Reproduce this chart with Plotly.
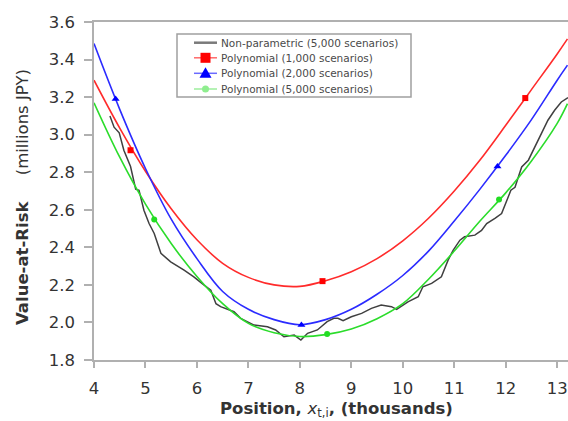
import plotly.graph_objects as go

# Position grid (thousands) for the fitted polynomial curves
x_grid = [4.0, 4.5, 5.0, 5.5, 6.0, 6.5, 7.0, 7.5, 8.0, 8.5, 9.0, 9.5,
          10.0, 10.5, 11.0, 11.5, 12.0, 12.5, 13.0, 13.2]

# Polynomial VaR fits (millions JPY)
poly_1000 = [3.29, 3.035, 2.805, 2.605, 2.44, 2.315, 2.24, 2.20, 2.192, 2.222, 2.27, 2.34,
             2.435, 2.555, 2.70, 2.865, 3.05, 3.24, 3.43, 3.51]
poly_2000 = [3.485, 3.135, 2.82, 2.55, 2.34, 2.165, 2.07, 2.015, 1.988, 2.015, 2.07, 2.15,
             2.25, 2.38, 2.54, 2.71, 2.89, 3.08, 3.29, 3.37]
poly_5000 = [3.17, 2.88, 2.63, 2.42, 2.245, 2.10, 1.995, 1.945, 1.925, 1.935, 1.965, 2.02,
             2.10, 2.23, 2.38, 2.54, 2.69, 2.86, 3.06, 3.165]

# Marker positions on each polynomial curve
mark_x_1000 = [4.71, 8.44, 12.38]
mark_y_1000 = [2.917, 2.22, 3.195]
mark_x_2000 = [4.42, 8.03, 11.84]
mark_y_2000 = [3.19, 1.986, 2.83]
mark_x_5000 = [5.17, 8.53, 11.87]
mark_y_5000 = [2.548, 1.938, 2.655]

# Non-parametric VaR estimate (5,000 scenarios)
np_x = [4.31, 4.39, 4.49, 4.58, 4.71, 4.81, 4.875, 4.97, 5.07, 5.17, 5.30, 5.49, 5.75,
        5.94, 6.14, 6.27, 6.37, 6.46, 6.72, 6.85, 7.11, 7.37, 7.53, 7.69, 7.89, 8.02,
        8.15, 8.34, 8.53, 8.66, 8.74, 8.84, 9.0, 9.20, 9.39, 9.58, 9.78, 9.88, 10.10,
        10.30, 10.39, 10.56, 10.75, 10.88, 10.98, 11.11, 11.20, 11.40, 11.53, 11.63,
        11.79, 11.92, 12.05, 12.10, 12.18, 12.31, 12.44, 12.57, 12.69, 12.82, 12.95,
        13.08, 13.21]
np_y = [3.10, 3.04, 3.01, 2.917, 2.83, 2.71, 2.704, 2.598, 2.527, 2.474, 2.368, 2.323,
        2.279, 2.243, 2.199, 2.172, 2.10, 2.084, 2.057, 2.022, 1.986, 1.977, 1.96, 1.924,
        1.933, 1.906, 1.942, 1.96, 2.004, 2.022, 2.022, 2.009, 2.03, 2.048, 2.075, 2.093,
        2.084, 2.07, 2.11, 2.137, 2.19, 2.208, 2.243, 2.332, 2.385, 2.438, 2.456, 2.465,
        2.49, 2.527, 2.554, 2.58, 2.669, 2.704, 2.72, 2.828, 2.864, 2.935, 3.006, 3.077,
        3.13, 3.174, 3.197]

y_ticks = [1.8, 2.0, 2.2, 2.4, 2.6, 2.8, 3.0, 3.2, 3.4, 3.6]
x_ticks = [4, 5, 6, 7, 8, 9, 10, 11, 12, 13]

names = ["Non-parametric (5,000 scenarios)",
         "Polynomial (1,000 scenarios)",
         "Polynomial (2,000 scenarios)",
         "Polynomial (5,000 scenarios)"]

RED, BLUE, GREEN, GREY = "#ff2b2b", "#2b2bff", "#2bdc2b", "#404040"
FONT = "DejaVu Sans, Verdana, sans-serif"

W, H = 568, 421
ML, MR, MT, MB = 94, 0, 22, 61
PW, PH = W - ML - MR, H - MT - MB


def px(x):
    """Horizontal pixel -> paper coordinate."""
    return (x - ML) / PW


def py(y):
    """Vertical pixel (from top) -> paper coordinate."""
    return (H - MB - y) / PH


fig = go.Figure()

# Curves
fig.add_trace(go.Scatter(x=np_x, y=np_y, mode="lines", showlegend=False,
                         line=dict(color=GREY, width=1.5)))
fig.add_trace(go.Scatter(x=x_grid, y=poly_1000, mode="lines", showlegend=False,
                         line=dict(color=RED, width=1.6, shape="spline", smoothing=1.0)))
fig.add_trace(go.Scatter(x=x_grid, y=poly_2000, mode="lines", showlegend=False,
                         line=dict(color=BLUE, width=1.6, shape="spline", smoothing=1.0)))
fig.add_trace(go.Scatter(x=x_grid, y=poly_5000, mode="lines", showlegend=False,
                         line=dict(color=GREEN, width=1.6, shape="spline", smoothing=1.0)))

# Point markers on the curves
fig.add_trace(go.Scatter(x=mark_x_1000, y=mark_y_1000, mode="markers", showlegend=False,
                         marker=dict(symbol="square", size=6, color="#ff0000")))
fig.add_trace(go.Scatter(x=mark_x_2000, y=mark_y_2000, mode="markers", showlegend=False,
                         marker=dict(symbol="triangle-up", size=7, color="#0000ff")))
fig.add_trace(go.Scatter(x=mark_x_5000, y=mark_y_5000, mode="markers", showlegend=False,
                         marker=dict(symbol="circle", size=6, color="#22dd22")))

# Legend box drawn with shapes and annotations
shapes = [dict(type="rect", xref="paper", yref="paper",
               x0=px(177), x1=px(411), y0=py(97), y1=py(34),
               line=dict(color="#a0a0a0", width=1.5), fillcolor="white", layer="above")]
annotations = []
row_y = [42.7, 57.8, 73.3, 89.0]
sym_line = [dict(color="#7a7a7a", width=2.5), dict(color="#ff6a6a", width=1.5),
            dict(color="#6a6aff", width=1.5), dict(color="#9cee9c", width=1.5)]
for i, (name, ry) in enumerate(zip(names, row_y)):
    shapes.append(dict(type="line", xref="paper", yref="paper",
                       x0=px(194), x1=px(217), y0=py(ry), y1=py(ry),
                       line=sym_line[i], layer="above"))
    annotations.append(dict(text=name, xref="paper", yref="paper",
                            x=px(219), y=py(ry), xanchor="left", yanchor="middle",
                            showarrow=False, font=dict(family=FONT, size=10.5, color="#4a4a4a")))
cx = 205.5
# red square
shapes.append(dict(type="rect", xref="paper", yref="paper",
                   x0=px(cx - 5), x1=px(cx + 5), y0=py(row_y[1] + 5), y1=py(row_y[1] - 5),
                   line=dict(width=0), fillcolor="#ff0000", layer="above"))
# blue triangle
ty = row_y[2]
shapes.append(dict(type="path", xref="paper", yref="paper",
                   path=f"M {px(cx - 6)},{py(ty + 4.5)} L {px(cx + 6)},{py(ty + 4.5)} "
                        f"L {px(cx)},{py(ty - 6)} Z",
                   line=dict(width=0), fillcolor="#0000ff", layer="above"))
# green dot
shapes.append(dict(type="circle", xref="paper", yref="paper",
                   x0=px(cx - 3.5), x1=px(cx + 3.5), y0=py(row_y[3] + 3.5), y1=py(row_y[3] - 3.5),
                   line=dict(width=0), fillcolor="#8fee8f", layer="above"))

# Axis titles
annotations.append(dict(text="<b>Value-at-Risk</b>\u00a0\u00a0\u00a0\u00a0\u00a0(millions JPY)",
                        xref="paper", yref="paper", x=px(22), y=py(197), textangle=-90,
                        xanchor="center", yanchor="middle", showarrow=False,
                        font=dict(family=FONT, size=16.5, color="#333333")))
annotations.append(dict(text="<b>Position, </b><i>x</i><sub>t,i</sub><b>, (thousands)</b>",
                        xref="paper", yref="paper", x=px(336), y=py(409),
                        xanchor="center", yanchor="middle", showarrow=False,
                        font=dict(family=FONT, size=16.5, color="#333333")))

fig.update_layout(
    width=W, height=H,
    margin=dict(l=ML, r=MR, t=MT, b=MB),
    paper_bgcolor="white", plot_bgcolor="white",
    font=dict(family=FONT, color="#333333"),
    showlegend=False,
    xaxis=dict(range=[4, 13.21], tickvals=x_ticks, showgrid=False, zeroline=False,
               showline=True, linecolor="#b0b0b0", linewidth=1.5, mirror=True,
               ticks="outside", ticklen=6, tickcolor="#b0b0b0", tickwidth=1.5,
               tickfont=dict(family=FONT, size=16.5, color="#333333"), ticklabelstandoff=6),
    yaxis=dict(range=[1.8, 3.6], tickvals=y_ticks, tickformat=".1f", showgrid=False,
               zeroline=False, showline=True, linecolor="#b0b0b0", linewidth=1.5,
               ticks="outside", ticklen=8, tickcolor="#b0b0b0", tickwidth=1.5,
               tickfont=dict(family=FONT, size=16.5, color="#333333"), ticklabelstandoff=6),
    shapes=shapes,
    annotations=annotations,
)

fig.write_html("out.html")
